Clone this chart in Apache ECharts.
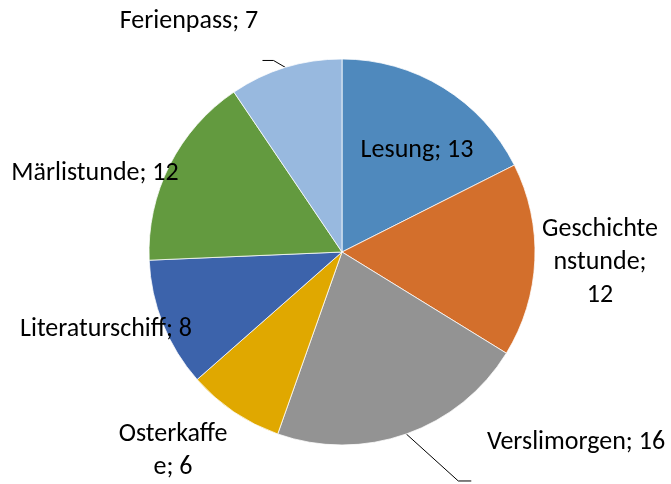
<!doctype html>
<html lang="de">
<head>
    <meta charset="utf-8"/>
    <title>Veranstaltungen</title>
    <script src="https://cdn.jsdelivr.net/npm/echarts@6/dist/echarts.min.js"></script>
    <style>
        html, body { margin: 0; padding: 0; background: #fff; }
        #chart { width: 671px; height: 484px; }
    </style>
</head>
<body>
<div id="chart"></div>
<script>
    // Daten
    const categories = ["Lesung", "Geschichtenstunde", "Verslimorgen", "Osterkaffee", "Literaturschiff", "Märlistunde", "Ferienpass"];
    const values = [13, 12, 16, 6, 8, 12, 7];
    const colors = ["#4F89BD", "#D36F2C", "#939393", "#E0A800", "#3C63AB", "#639A3F", "#98B9DF"];

    // Umbrüche wie im Original
    const wrapped = {
        "Geschichtenstunde": "Geschichte\nnstunde;\n",
        "Osterkaffee": "Osterkaffe\ne; "
    };

    const cx = 342, cy = 252, r = 193;

    // Position der Beschriftungen (Mittelpunkt)
    const labelPos = [
        [417, 150], [600, 262], [576, 442], [173, 451], [106, 329], [95, 173], [189, 21]
    ];
    // Führungslinien: Knick relativ zum Randpunkt, dann waagrecht
    const leader = {
        2: { bend: [52, 47], tail: 13 },
        6: { bend: [-12, -7], tail: -11 }
    };

    const total = values.reduce((a, b) => a + b, 0);
    function midAngle(i) {
        let before = 0;
        for (let k = 0; k < i; k++) before += values[k];
        return (before + values[i] / 2) / total * Math.PI * 2;
    }

    const chart = echarts.init(document.getElementById("chart"));
    chart.setOption({
        animation: false,
        series: [{
            type: "pie",
            center: [cx, cy],
            radius: r,
            startAngle: 90,
            clockwise: true,
            itemStyle: { borderColor: "#ffffff", borderWidth: 0.75 },
            label: {
                color: "#000",
                fontFamily: "Carlito, 'Noto Sans', sans-serif",
                fontSize: 26,
                lineHeight: 33,
                overflow: "none",
                formatter: function (p) {
                    const n = wrapped[p.name];
                    return n ? n + p.value : p.name + "; " + p.value;
                }
            },
            labelLine: { show: false, lineStyle: { color: "#000", width: 1 } },
            labelLayout: function (p) {
                const i = p.dataIndex;
                const out = {
                    x: labelPos[i][0],
                    y: labelPos[i][1],
                    align: "center",
                    verticalAlign: "middle"
                };
                if (leader[i]) {
                    const a = midAngle(i);
                    const s = [cx + r * Math.sin(a), cy - r * Math.cos(a)];
                    const b = [s[0] + leader[i].bend[0], s[1] + leader[i].bend[1]];
                    out.labelLinePoints = [s, b, [b[0] + leader[i].tail, b[1]]];
                }
                return out;
            },
            data: categories.map(function (c, i) {
                return {
                    name: c,
                    value: values[i],
                    itemStyle: { color: colors[i] },
                    label: { position: i === 0 ? "inside" : "outside" },
                    labelLine: { show: !!leader[i] }
                };
            })
        }]
    });
</script>
</body>
</html>
